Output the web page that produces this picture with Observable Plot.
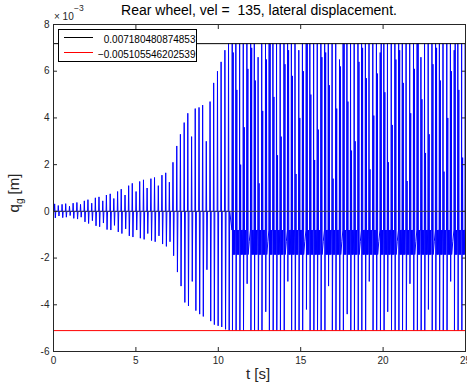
<!DOCTYPE html>
<html>
<head>
<meta charset="utf-8">
<script src="https://cdn.jsdelivr.net/npm/d3@7"></script>
<script src="https://cdn.jsdelivr.net/npm/@observablehq/plot@0.6"></script>
<style>
  html, body { margin: 0; padding: 0; background: #fff; }
  svg { display: block; }
</style>
</head>
<body>
<script>
// ---- data (units of 1e-3 m) ----
const titleText = "Rear wheel, vel =  135, lateral displacement.";
const xTicks = [0, 5, 10, 15, 20, 25];
const yTicks = [-6, -4, -2, 0, 2, 4, 6, 8];
const maxValue = 7.180480874853;   // x 1e-3
const minValue = -5.105546202539;  // x 1e-3
const legendLabels = ["0.007180480874853", "\u22120.005105546202539"];

// start time of each oscillation cycle [s]
const cycleStart = [
  0.05, 0.27, 0.50, 0.72, 0.95, 1.17, 1.40, 1.62, 1.85, 2.07,
  2.30, 2.52, 2.74, 2.97, 3.19, 3.42, 3.64, 3.87, 4.09, 4.32,
  4.54, 4.76, 4.99, 5.21, 5.44, 5.66, 5.89, 6.11, 6.34, 6.56,
  6.79, 7.01, 7.23, 7.46, 7.68, 7.91, 8.13, 8.36, 8.58, 8.81,
  9.03, 9.25, 9.48, 9.70, 9.93, 10.15, 10.38, 10.60,
  10.83, 11.05, 11.28, 11.50, 11.72, 11.95, 12.17, 12.40, 12.62, 12.85,
  13.07, 13.30, 13.52, 13.74, 13.97, 14.19, 14.42, 14.64, 14.87, 15.09,
  15.32, 15.54, 15.77, 15.99, 16.21, 16.44, 16.66, 16.89, 17.11, 17.34,
  17.56, 17.79, 18.01, 18.23, 18.46, 18.68, 18.91, 19.13, 19.36, 19.58,
  19.81, 20.03, 20.25, 20.48, 20.70, 20.93, 21.15, 21.38, 21.60, 21.83,
  22.05, 22.28, 22.50, 22.72, 22.95, 23.17, 23.40, 23.62, 23.85, 24.07,
  24.30, 24.52, 24.75, 24.97
];
// maximum of each cycle
const peakHi = [
  0.32, 0.25, 0.30, 0.33, 0.22, 0.35, 0.38, 0.30, 0.45, 0.50,
  0.35, 0.58, 0.62, 0.45, 0.70, 0.75, 0.55, 0.85, 0.95, 0.70,
  1.10, 1.20, 0.85, 1.28, 1.35, 1.00, 1.40, 1.45, 1.10, 1.55,
  1.65, 1.25, 2.10, 2.80, 3.30, 3.80, 4.20, 3.20, 4.40, 4.45,
  4.55, 3.00, 4.70, 5.50, 6.00, 6.40, 6.90, 7.18,
  7.18, 7.18, 7.18, 7.18, 7.18, 7.18, 7.18, 6.60, 7.18, 7.18,
  7.18, 7.18, 7.18, 7.18, 7.18, 7.18, 7.18, 7.18, 6.90, 7.18,
  7.18, 7.18, 7.18, 7.18, 7.18, 7.18, 7.18, 7.18, 7.18, 6.50,
  7.18, 7.18, 7.18, 7.18, 7.18, 7.18, 7.18, 7.18, 7.18, 7.18,
  6.80, 7.18, 7.18, 7.18, 7.18, 7.18, 7.18, 7.18, 7.18, 7.18,
  7.18, 6.60, 7.18, 7.18, 7.18, 7.18, 7.18, 7.18, 7.18, 7.18,
  6.90, 7.18, 7.18, 7.18
];
// minimum of each cycle
const peakLo = [
  -0.28, -0.20, -0.27, -0.25, -0.18, -0.30, -0.33, -0.25, -0.45, -0.52,
  -0.40, -0.62, -0.66, -0.50, -0.78, -0.80, -0.60, -0.88, -0.95, -0.75,
  -1.05, -1.10, -0.80, -1.15, -1.20, -0.95, -1.25, -1.30, -1.05, -1.40,
  -1.50, -1.30, -1.90, -2.60, -3.20, -3.90, -4.05, -3.00, -4.25, -4.40,
  -4.50, -2.50, -4.70, -4.85, -4.90, -4.95, -5.05, -5.10,
  -5.10, -5.10, -5.10, -5.10, -3.10, -5.10, -5.10, -5.10, -5.10, -4.30,
  -5.10, -5.10, -5.10, -5.10, -5.10, -3.00, -5.10, -5.10, -5.10, -5.10,
  -4.20, -5.10, -5.10, -5.10, -5.10, -5.10, -3.20, -5.10, -5.10, -5.10,
  -5.10, -4.40, -5.10, -5.10, -5.10, -5.10, -5.10, -3.00, -5.10, -5.10,
  -5.10, -5.10, -4.30, -5.10, -5.10, -5.10, -5.10, -5.10, -3.10, -5.10,
  -5.10, -5.10, -5.10, -4.20, -5.10, -5.10, -5.10, -5.10, -5.10, -3.00,
  -5.10, -5.10, -5.10, -5.10
];
// saturated regime (from cycle 48 on): secondary peak and whether the signal dwells in the band
const firstSaturatedCycle = 48;
const secondaryPeak = [
  6.8, 5.2, 2.0, 3.6, 6.1,  7.0, 5.6, 1.2, 4.3, 6.5,
  7.18, 4.9, 2.4, 3.2, 6.3, 6.9, 5.8, 1.6, 4.0, 6.0,
  7.18, 5.0, 2.2, 3.5, 6.6, 6.8, 5.4, 1.4, 4.4, 6.2,
  7.18, 4.7, 2.6, 3.0, 6.4, 7.0, 5.7, 1.8, 4.1, 5.9,
  7.18, 5.1, 2.1, 3.7, 6.5, 6.9, 5.5, 1.3, 4.2, 6.1,
  7.18, 4.8, 2.5, 3.3, 6.3, 7.0, 5.6, 1.7, 4.0, 6.0,
  7.18, 5.2, 2.3, 3.6
];
const bandDwell = [
  1, 1, 1, 1, 0, 1, 1, 1, 1, 0,
  1, 1, 1, 1, 0, 1, 1, 1, 1, 0,
  1, 1, 1, 1, 0, 1, 1, 1, 1, 0,
  1, 1, 1, 1, 0, 1, 1, 1, 1, 0,
  1, 1, 1, 1, 0, 1, 1, 1, 1, 0,
  1, 1, 1, 1, 0, 1, 1, 1, 1, 0,
  1, 1, 1, 1
];
const bandTop = -0.8, bandBottom = -1.85, bandMid = -1.3;
// time offsets within a cycle [s]
const earlyOffsets = [0.02, 0.06, 0.09];            // peak, trough, back to 0
const saturatedOffsets = [0.015, 0.03, 0.075, 0.09]; // peak, trough, secondary, band
const bandOffsets = [0.1125, 0.135, 0.1575, 0.18, 0.2025];
const bandValues = [bandTop, bandBottom, bandTop, bandBottom, bandTop];

// ---- build the signal table from the arrays ----
const signal = [];
cycleStart.forEach((T, i) => {
  if (i < firstSaturatedCycle) {
    signal.push({t: T, q: 0});
    signal.push({t: T + earlyOffsets[0], q: peakHi[i]});
    signal.push({t: T + earlyOffsets[1], q: peakLo[i]});
    signal.push({t: T + earlyOffsets[2], q: 0});
  } else {
    const k = i - firstSaturatedCycle;
    signal.push({t: T, q: bandTop});
    signal.push({t: T + saturatedOffsets[0], q: peakHi[i]});
    signal.push({t: T + saturatedOffsets[1], q: peakLo[i]});
    signal.push({t: T + saturatedOffsets[2], q: secondaryPeak[k]});
    signal.push({t: T + saturatedOffsets[3], q: bandBottom});
    if (bandDwell[k]) {
      bandOffsets.forEach((o, j) => signal.push({t: T + o, q: bandValues[j]}));
    } else {
      signal.push({t: T + bandOffsets[2], q: bandMid});
    }
  }
});

const font = "'Liberation Sans', Arial, Helvetica, sans-serif";
const axisColor = "#262626";

const chart = Plot.plot({
  width: 467,
  height: 390,
  marginLeft: 53,
  marginRight: 2,
  marginTop: 24,
  marginBottom: 39,
  style: {fontFamily: font, fontSize: "10px", color: axisColor, background: "#fff", overflow: "visible"},
  x: {domain: [0, 25], label: null},
  y: {domain: [-6, 8], label: null},
  marks: [
    Plot.line(signal, {x: "t", y: "q", stroke: "#0000ff", strokeWidth: 1, clip: true}),
    Plot.ruleY([0], {stroke: "#3a3a55", strokeWidth: 1}),
    Plot.ruleY([maxValue], {stroke: "#000", strokeWidth: 1}),
    Plot.ruleY([minValue], {stroke: "#ff0000", strokeWidth: 1}),
    Plot.frame({stroke: axisColor, strokeWidth: 1}),
    Plot.axisX({anchor: "bottom", ticks: xTicks, tickSize: -4, tickFormat: () => "", label: null, stroke: axisColor}),
    Plot.axisX({anchor: "top", ticks: xTicks, tickSize: -4, tickFormat: () => "", label: null, stroke: axisColor}),
    Plot.axisY({anchor: "left", ticks: yTicks, tickSize: -4, tickFormat: () => "", label: null, stroke: axisColor}),
    Plot.axisY({anchor: "right", ticks: yTicks, tickSize: -4, tickFormat: () => "", label: null, stroke: axisColor}),
    Plot.axisX({anchor: "bottom", ticks: xTicks, tickSize: 0, tickPadding: 5, tickFormat: d => String(d), label: null, fill: axisColor}),
    Plot.axisY({anchor: "left", ticks: yTicks, tickSize: 0, tickPadding: 4, tickFormat: d => String(d), label: null, fill: axisColor})
  ]
});

document.body.appendChild(chart);
const svg = d3.select(chart);

// title
svg.append("text")
  .attr("x", 259).attr("y", 15)
  .attr("text-anchor", "middle")
  .style("font-family", font).style("font-size", "14px").attr("fill", "#000")
  .attr("xml:space", "preserve")
  .text(titleText);

// exponent
svg.append("text").attr("x", 54).attr("y", 20)
  .attr("text-anchor", "start")
  .style("font-family", font).style("font-size", "10px").attr("fill", axisColor)
  .text("\u00d7 10");
svg.append("text").attr("x", 74).attr("y", 11)
  .attr("text-anchor", "start")
  .style("font-family", font).style("font-size", "8.5px").attr("fill", axisColor)
  .text("\u22123");

// x label
svg.append("text").attr("x", 258).attr("y", 379)
  .attr("text-anchor", "middle")
  .style("font-family", font).style("font-size", "15px").attr("fill", axisColor)
  .text("t [s]");

// y label
const yl = svg.append("text")
  .attr("transform", "translate(19,193) rotate(-90)")
  .attr("text-anchor", "middle")
  .style("font-family", font).style("font-size", "15px").attr("fill", axisColor);
yl.append("tspan").text("q");
yl.append("tspan").attr("dy", 4).style("font-size", "10px").text("g");
yl.append("tspan").attr("dy", -4).text(" [m]");

// legend
const lg = svg.append("g");
lg.append("rect").attr("x", 58.5).attr("y", 29.5).attr("width", 138).attr("height", 32)
  .attr("fill", "#fff").attr("stroke", "#000").attr("stroke-width", 1);
const legendColors = ["#000", "#ff0000"];
const legendRowY = [37.5, 52.5];
legendLabels.forEach((lab, i) => {
  lg.append("line").attr("x1", 64).attr("x2", 93).attr("y1", legendRowY[i]).attr("y2", legendRowY[i])
    .attr("stroke", legendColors[i]).attr("stroke-width", 1);
  lg.append("text").attr("x", 195.5).attr("y", legendRowY[i] + 5)
    .attr("text-anchor", "end")
    .style("font-family", font).style("font-size", "10px").attr("fill", "#000")
    .text(lab);
});
</script>
</body>
</html>
